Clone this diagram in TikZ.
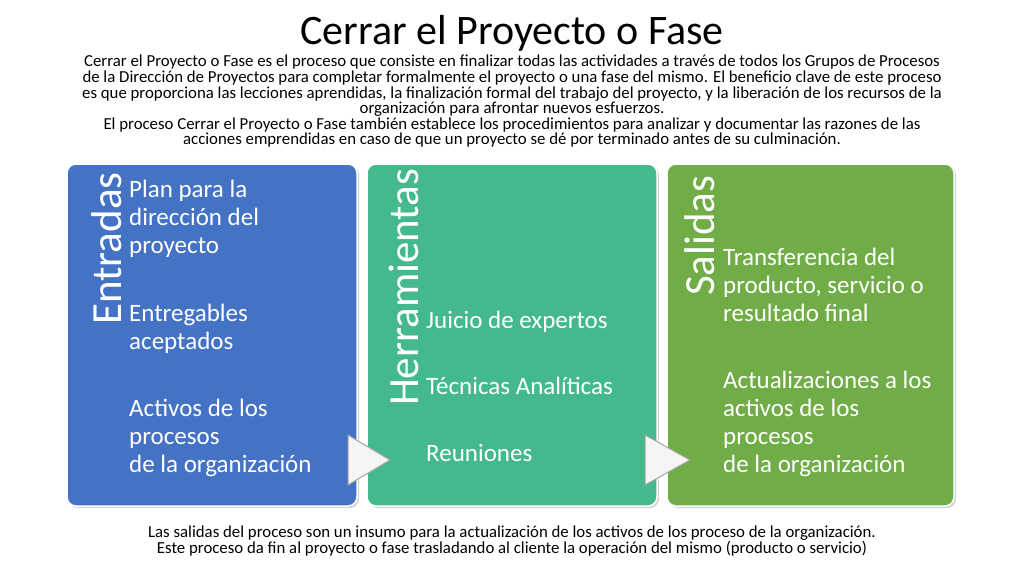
\documentclass[tikz,border=0pt]{standalone}
\usepackage{fontspec}
\setmainfont{Carlito}
\usetikzlibrary{shadows}
\definecolor{cblue}{HTML}{4472C4}
\definecolor{cgreen}{HTML}{44BA8C}
\definecolor{colive}{HTML}{70AD47}
\tikzset{
 panel/.style={draw=white,line width=1.5pt,rounded corners=9pt,drop shadow={opacity=0.35,shadow xshift=2pt,shadow yshift=-2pt}},
 vtitle/.style={rotate=90,anchor=base west,text=white,font=\fontsize{43}{43}\selectfont,inner sep=0pt},
 items/.style={anchor=north west,align=left,text=white,font=\fontsize{25}{28}\selectfont,inner sep=0pt},
 chev/.style={draw=gray!70,fill=gray!8,line width=1pt},
 para/.style={align=center,font=\fontsize{16.8}{15.6}\selectfont,inner sep=0pt}
}
\begin{document}
\begin{tikzpicture}[x=1pt,y=-1pt]
\useasboundingbox (0,0) rectangle (1024,576);
\node[anchor=base,font=\fontsize{42}{42}\selectfont,inner sep=0pt] (title) at (512,44) {Cerrar el Proyecto o Fase};
\node[para,anchor=north] (intro) at (512,55) {Cerrar el Proyecto o Fase es el proceso que consiste en finalizar todas las actividades a través de todos los Grupos de Procesos\\
de la Dirección de Proyectos para completar formalmente el proyecto o una fase del mismo. El beneficio clave de este proceso\\
es que proporciona las lecciones aprendidas, la finalización formal del trabajo del proyecto, y la liberación de los recursos de la\\
organización para afrontar nuevos esfuerzos.\\
El proceso Cerrar el Proyecto o Fase también establece los procedimientos para analizar y documentar las razones de las\\
acciones emprendidas en caso de que un proyecto se dé por terminado antes de su culminación.};
\path[panel,fill=cblue] (67,164) rectangle (357,506);
\path[panel,fill=cgreen] (367,164) rectangle (657,506);
\path[panel,fill=colive] (667,164) rectangle (954,506);
\node[vtitle] (t1) at (121,325) {Entradas};
\node[vtitle] (t2) at (418,406) {Herramientas};
\node[vtitle] (t3) at (714,296) {Salidas};
\node[items] (b1) at (129,180) {Plan para la\\dirección del\\proyecto\\[40pt]Entregables\\aceptados\\[39pt]Activos de los\\procesos\\de la organización};
\node[items] (b2) at (426,311) {Juicio de expertos\\[38pt]Técnicas Analíticas\\[39pt]Reuniones};
\node[items] (b3) at (723,248) {Transferencia del\\producto, servicio o\\resultado final\\[39pt]Actualizaciones a los\\activos de los\\procesos\\de la organización};
\draw[chev] (348,435) -- (348,485) -- (390,460) -- cycle;
\draw[chev] (645,435) -- (645,485) -- (690,460) -- cycle;
\node[para,anchor=north] (outro) at (512,526) {Las salidas del proceso son un insumo para la actualización de los activos de los proceso de la organización.\\
Este proceso da fin al proyecto o fase trasladando al cliente la operación del mismo (producto o servicio)};
\end{tikzpicture}
\end{document}
